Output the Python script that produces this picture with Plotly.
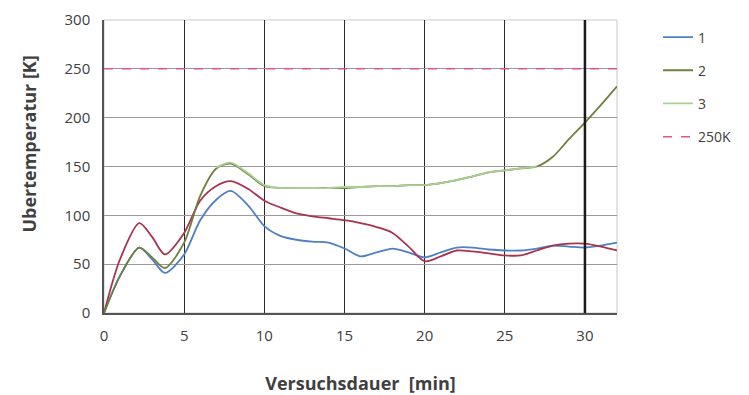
import plotly.graph_objects as go

# ---- data ----
x_min = [0, 1, 2.2, 3, 3.8, 5, 6, 7, 7.9, 9, 10, 11, 12, 13, 14, 15, 16, 17, 18, 19,
         20, 21, 22, 23, 24, 25, 26, 27, 28, 29, 30, 31, 32]
series1 = [0, 38, 67, 55, 41, 60, 95, 116, 125, 110, 89, 79, 75, 73, 72, 66, 58, 62, 66, 62,
           57, 62, 67, 67, 65, 64, 64, 66, 69, 68, 67, 69, 72]
series_red = [0, 55, 92, 78, 60, 82, 115, 130, 135, 127, 115, 108, 102, 99, 97, 95, 92, 88, 82, 68,
              53, 58, 64, 63, 61, 59, 59, 64, 69, 71, 71, 68, 64]
series2 = [0, 38, 67, 57, 46, 72, 120, 148, 153, 142, 130, 128, 128, 128, 128, 128, 129, 130, 130, 131,
           131, 133, 136, 140, 144, 146, 148, 150, 160, 178, 195, 213, 232]
x3 = [7, 7.9, 9, 10, 11, 12, 13, 14, 15, 16, 17, 18, 19, 20, 21, 22, 23, 24, 25, 26, 27]
series3 = [149, 154, 143, 131, 128, 128, 128, 128, 129, 129, 130, 130, 131, 131, 133, 136, 140, 144, 146, 148, 150]
limit_x = [0, 32]
limit_y = [250, 250]
x_ticks = [0, 5, 10, 15, 20, 25, 30]
y_ticks = [0, 50, 100, 150, 200, 250, 300]

FONT = "Open Sans"
fig = go.Figure()

fig.add_trace(go.Scatter(x=x_min, y=series1, mode="lines", name="1", legendgroup="a",
                         line=dict(color="#4f7fc4", width=1.8, shape="spline", smoothing=0.8)))
fig.add_trace(go.Scatter(x=x_min, y=series_red, mode="lines", name="", showlegend=False,
                         line=dict(color="#a8334f", width=1.8, shape="spline", smoothing=0.8)))
fig.add_trace(go.Scatter(x=x_min, y=series2, mode="lines", name="2", legendgroup="b",
                         line=dict(color="#6f7f3e", width=1.8, shape="spline", smoothing=0.8)))
fig.add_trace(go.Scatter(x=x3, y=series3, mode="lines", name="3", legendgroup="c",
                         line=dict(color="#a9cf92", width=1.8, shape="spline", smoothing=0.8)))
fig.add_trace(go.Scatter(x=limit_x, y=limit_y, mode="lines", name="250K", legendgroup="d",
                         line=dict(color="#e5557f", width=1.5, dash="dash")))

fig.add_vline(x=30, line=dict(color="#1a1a1a", width=2.5), layer="above")

fig.update_layout(
    width=741, height=387,
    margin=dict(l=96, r=132, t=12, b=82, autoexpand=False),
    paper_bgcolor="white", plot_bgcolor="white",
    font=dict(family=FONT, size=15, color="#404040"),
    showlegend=True,
    legend=dict(x=1.08, y=0.995, xanchor="left", yanchor="top",
                font=dict(family=FONT, size=14, color="#404040"),
                tracegroupgap=12, bgcolor="rgba(0,0,0,0)"),
    annotations=[dict(text="Ubertemperatur [K]", textangle=-90, xref="paper", yref="paper",
                      x=-0.148, y=0.575, xanchor="center", yanchor="middle", showarrow=False,
                      font=dict(family=FONT, size=18, color="#404040", weight="bold"))],
)
fig.update_xaxes(range=[0, 32], tickvals=x_ticks, ticktext=[str(v) for v in x_ticks],
                 showgrid=True, gridcolor="#2a2a2a", gridwidth=1.3,
                 zeroline=False, showline=True, linecolor="#555555", linewidth=1.5,
                 mirror=False, ticks="", ticklabelstandoff=8, ticklabeloverflow="allow",
                 title=dict(text="<b>Versuchsdauer  [min]</b>", standoff=37,
                            font=dict(family=FONT, size=18, color="#404040")))
fig.update_yaxes(range=[0, 300], tickvals=y_ticks, ticktext=[str(v) for v in y_ticks],
                 showgrid=True, gridcolor="#9a9a9a", gridwidth=1.2,
                 zeroline=False, showline=True, linecolor="#555555", linewidth=1.5,
                 ticks="", ticklabelstandoff=9, ticklabeloverflow="allow")

# light top/right border
fig.add_shape(type="rect", xref="paper", yref="paper", x0=0, y0=0, x1=1, y1=1,
              line=dict(color="#c8c8c8", width=1), layer="below")

fig.write_html("out.html")
